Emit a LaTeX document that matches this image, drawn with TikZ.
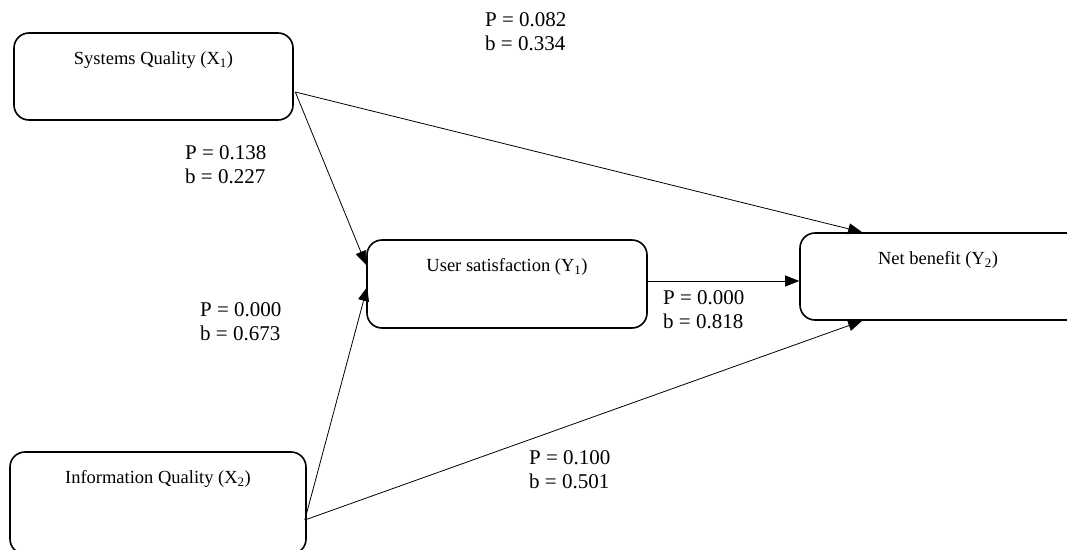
\documentclass[tikz,border=0pt]{standalone}
\usepackage{fontspec}
\setmainfont{Liberation Serif}
\usetikzlibrary{arrows.meta, calc, positioning}

\begin{document}
\begin{tikzpicture}[x=1pt, y=-1pt,
    box/.style={draw, rounded corners=15pt, line width=1.6pt, inner sep=0pt},
    title/.style={anchor=center, yshift=-28pt, inner sep=0pt, font=\fontsize{18.5}{22}\selectfont},
    coef/.style={anchor=west, align=left, inner sep=0pt, font=\fontsize{21}{24}\selectfont},
    >={Triangle[length=14pt, width=11pt]}]
\useasboundingbox (0,0) rectangle (1067,549);

\node[box, minimum width=279pt, minimum height=87pt,
      label={[title]north:Systems Quality (X\textsubscript{1})}] (sq) at (153.5,76.5) {};
\node[box, minimum width=280pt, minimum height=88pt,
      label={[title]north:User satisfaction (Y\textsubscript{1})}] (us) at (507,284) {};
\node[box, minimum width=290pt, minimum height=87pt,
      label={[title, xshift=-7pt]north:Net benefit (Y\textsubscript{2})}] (nb) at (945,276.5) {};
\node[box, minimum width=296pt, minimum height=102pt,
      label={[title]north:Information Quality (X\textsubscript{2})}] (iq) at (158,503) {};

\draw[line width=0.8pt]
    ($(sq.east)+(1.5,15.5)$) edge[->] ($(us.west)+(0,-19)$)
    ($(sq.east)+(1.5,15.5)$) edge[->] ($(nb.north west)+(63,0)$)
    ($(iq.east)+(-2,17)$) edge[->] ($(us.west)+(1,3)$)
    ($(iq.east)+(-2,17)$) edge[->] ($(nb.south west)+(63,0)$)
    ($(us.east)+(0,-3)$) edge[->] ($(nb.west)+(0,4.5)$);

% path coefficients
\node[coef] (c1) at (485,32) {P = 0.082\\b = 0.334};
\node[coef] (c2) at (185,164.5) {P = 0.138\\b = 0.227};
\node[coef] (c3) at (200,321.5) {P = 0.000\\b = 0.673};
\node[coef] (c4) at (663,310) {P = 0.000\\b = 0.818};
\node[coef] (c5) at (529,469.5) {P = 0.100\\b = 0.501};
\end{tikzpicture}
\end{document}
